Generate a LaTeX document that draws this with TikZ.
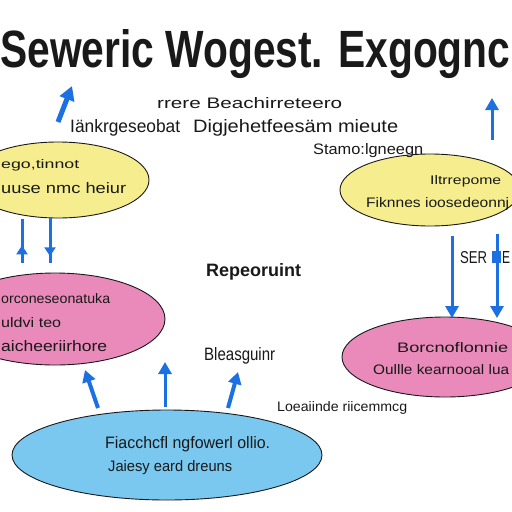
\documentclass[tikz,border=0pt]{standalone}
\usepackage{fontspec}
\setmainfont{Liberation Sans}
\usetikzlibrary{arrows.meta,decorations.markings,shapes.geometric}
\definecolor{ylw}{RGB}{246,238,142}
\definecolor{pnk}{RGB}{234,138,186}
\definecolor{sky}{RGB}{122,200,240}
\definecolor{arr}{RGB}{28,112,226}
\definecolor{ink}{RGB}{25,25,25}
\newcommand\fitt[3]{\resizebox{#1pt}{#2pt}{#3}}
\begin{document}
\begin{tikzpicture}[x=1pt,y=-1pt,
  blob/.style={ellipse, draw=ink, line width=0.9pt, inner sep=0pt},
  lbl/.style={anchor=base west, inner sep=0pt, text=ink},
  arrowln/.style={draw=arr, line width=3pt, -{Triangle[length=12pt,width=13pt]}},
  midtip/.style={draw=arr, line width=3pt, postaction={decorate},
    decoration={markings, mark=at position #1 with {\arrow[arr]{Triangle[length=9pt,width=11pt]}}}}]
\useasboundingbox (0,0) rectangle (512,512);
\fill[white] (0,0) rectangle (512,512);

% title
\node[lbl] (title) at (0,67) {\fitt{510}{38}{\bfseries Seweric Wogest. Exgognc}};

% ellipses
\node[blob, fill=ylw, minimum width=182pt, minimum height=76pt] (ly) at (58,180) {};
\node[blob, fill=pnk, minimum width=220pt, minimum height=92pt] (lp) at (55,319) {};
\node[blob, fill=ylw, minimum width=180pt, minimum height=72pt] (ry) at (430,190) {};
\node[blob, fill=pnk, minimum width=206pt, minimum height=80pt] (rp) at (445,357) {};
\node[blob, fill=sky, minimum width=310pt, minimum height=90pt] (bb) at (167,455) {};

% free texts
\node[lbl] (t1) at (157,108) {\fitt{185}{11}{rrere Beachirreteero}};
\node[lbl] (t2) at (70,132) {\fitt{110}{13}{Iänkrgeseobat}};
\node[lbl] (t3) at (193,132) {\fitt{205}{13}{Digjehetfeesäm mieute}};
\node[lbl] (t4) at (313,154) {\fitt{110}{11}{Stamo:lgneegn}};
\node[lbl] (t5) at (206,276) {\fitt{95}{13}{\bfseries Repeoruint}};
\node[lbl] (t6) at (204,360) {\fitt{71}{13}{Bleasguinr}};
\node[lbl] (t7) at (277,411) {\fitt{130}{10}{Loeaiinde riicemmcg}};
\node[lbl] (t8) at (460,263) {\fitt{27}{12}{SER}};
\node[fill=arr, minimum width=9pt, minimum height=12pt, inner sep=0pt] (sq) at (496,257) {};
\node[lbl] (t9) at (502,263) {\fitt{8}{12}{E}};

% ellipse texts
\node[lbl] (a1) at (1,168) {\fitt{78}{9}{ego,tinnot}};
\node[lbl] (a2) at (1,193) {\fitt{125}{11}{uuse nmc heiur}};
\node[lbl] (b1) at (430,184) {\fitt{71}{9}{Iltrrepome}};
\node[lbl] (b2) at (366,207) {\fitt{143}{10}{Fiknnes ioosedeonnj}};
\node[lbl] (c1) at (1,303) {\fitt{109}{10}{orconeseonatuka}};
\node[lbl] (c2) at (1,327) {\fitt{60}{10}{uldvi teo}};
\node[lbl] (c3) at (1,351) {\fitt{106}{11}{aicheeriirhore}};
\node[lbl] (d1) at (397,352) {\fitt{111}{10}{Borcnoflonnie}};
\node[lbl] (d2) at (373,374) {\fitt{136}{10}{Oullle kearnooal lua}};
\node[lbl] (e1) at (105,448) {\fitt{165}{12}{Fiacchcfl ngfowerl ollio.}};
\node[lbl] (e2) at (108,471) {\fitt{124}{11}{Jaiesy eard dreuns}};

% arrow end points
\coordinate (p1s) at (58,122);  \coordinate (p1e) at (72,86);
\coordinate (p2s) at (22,263);  \coordinate (p2e) at (22,219);
\coordinate (p3s) at (50,218);  \coordinate (p3e) at (50,263);
\coordinate (p4s) at (492,140); \coordinate (p4e) at (492,98);
\coordinate (p5s) at (452,236); \coordinate (p5e) at (452,318);
\coordinate (p6s) at (497,234); \coordinate (p6e) at (497,318);
\coordinate (p7s) at (98,408);  \coordinate (p7e) at (85,370);
\coordinate (p8s) at (165,407); \coordinate (p8e) at (165,362);
\coordinate (p9s) at (228,408); \coordinate (p9e) at (238,372);

\draw[arrowln, line width=5pt, -{Triangle[length=14pt,width=15pt]}] (p1s) -- (p1e);
\draw[midtip=0.4] (p2s) -- (p2e);
\draw[midtip=0.85] (p3s) -- (p3e);
\draw[arrowln] (p4s) -- (p4e);
\draw[arrowln] (p5s) -- (p5e);
\draw[arrowln] (p6s) -- (p6e);
\draw[arrowln, line width=4pt] (p7s) -- (p7e);
\draw[arrowln] (p8s) -- (p8e);
\draw[arrowln, line width=4pt] (p9s) -- (p9e);
\end{tikzpicture}
\end{document}
